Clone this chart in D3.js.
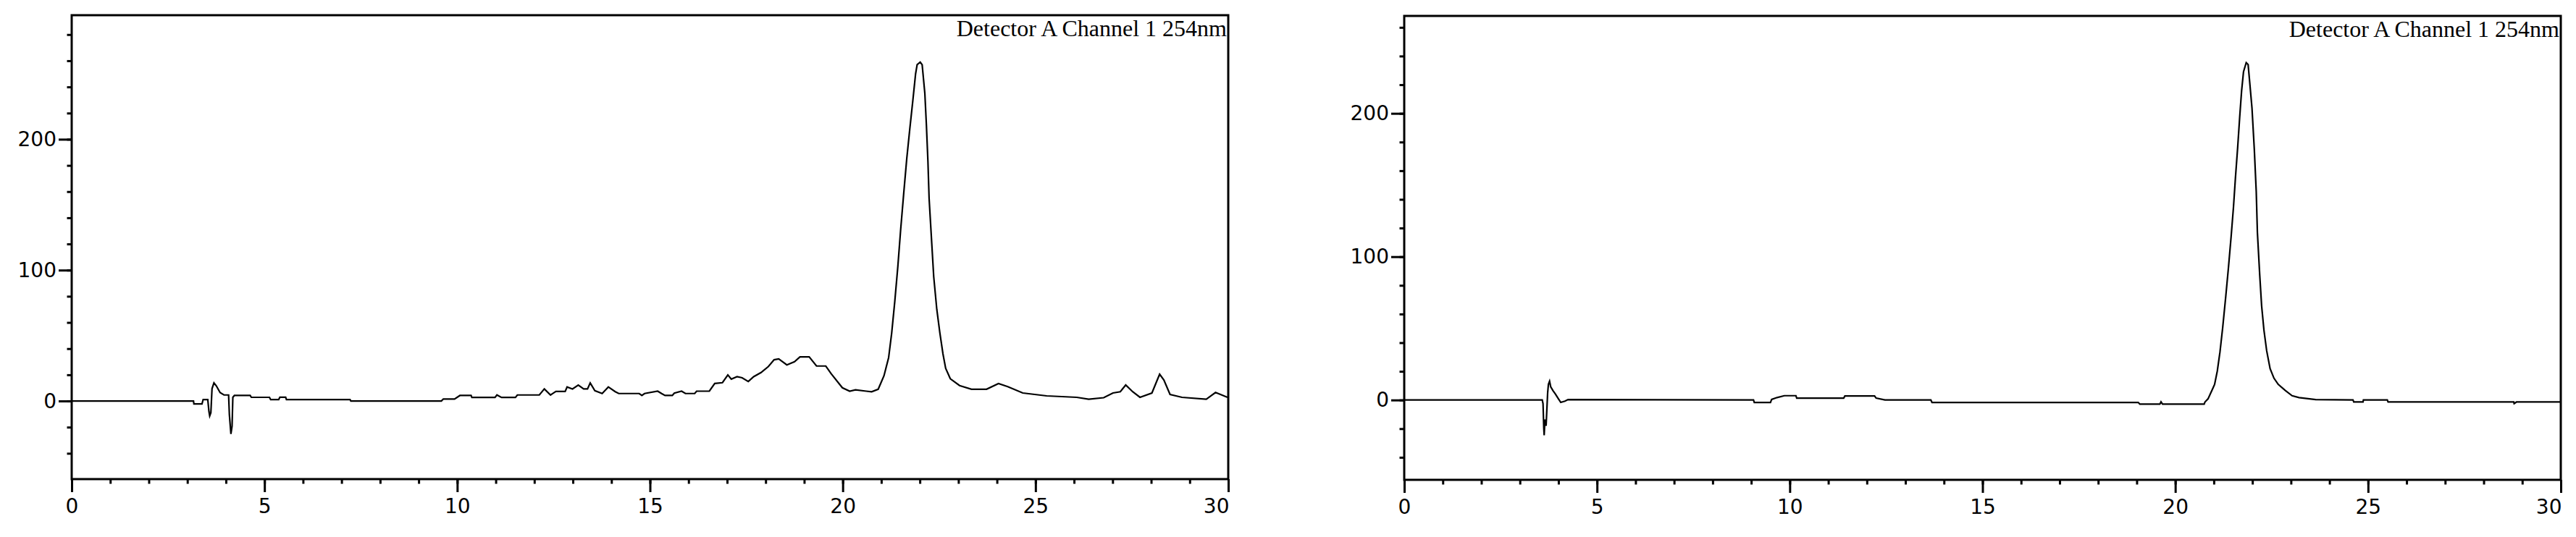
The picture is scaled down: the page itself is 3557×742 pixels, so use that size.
<!DOCTYPE html>
<html>
<head>
<meta charset="utf-8">
<script src="https://cdn.jsdelivr.net/npm/d3@7"></script>
<style>
  html, body { margin: 0; padding: 0; background: #fff; }
  svg { display: block; }
</style>
</head>
<body>
<svg id="chart" width="3557" height="742"></svg>
<script>
// ---------------- DATA ----------------
const channelLabel = "Detector A Channel 1 254nm";
const xMajorTicks = [0, 5, 10, 15, 20, 25, 30];
const yMajorTicks = [0, 100, 200];

// Left chromatogram (time in min, signal in mAU)
const leftTime = [0, 3.16, 3.17, 3.38, 3.41, 3.53, 3.56, 3.58, 3.61, 3.64, 3.69, 3.75, 3.85, 3.95, 4.07, 4.09, 4.13, 4.16, 4.18, 4.22,
  4.63, 4.66, 5.13, 5.16, 5.37, 5.4, 5.55, 5.57, 7.22, 7.24, 9.59, 9.64, 9.93, 10.07, 10.36, 10.38, 10.98, 11.03, 11.15, 11.51,
  11.56, 12.13, 12.26, 12.42, 12.56, 12.8, 12.85, 12.99, 13.14, 13.28, 13.38, 13.45, 13.57, 13.76, 13.92, 14.1, 14.19, 14.72, 14.79, 14.86,
  15.2, 15.3, 15.39, 15.58, 15.63, 15.82, 15.92, 16.16, 16.21, 16.54, 16.68, 16.88, 17.02, 17.11, 17.26, 17.39, 17.55, 17.69, 17.88, 18.07,
  18.22, 18.34, 18.55, 18.75, 18.89, 19.13, 19.32, 19.56, 19.7, 19.99, 20.18, 20.33, 20.61, 20.75, 20.92, 21.07, 21.19, 21.27, 21.35, 21.43,
  21.5, 21.58, 21.66, 21.74, 21.82, 21.89, 21.93, 22.01, 22.06, 22.13, 22.17, 22.21, 22.24, 22.31, 22.36, 22.44, 22.52, 22.6, 22.67, 22.79,
  23.03, 23.34, 23.73, 24.04, 24.28, 24.67, 25.29, 26.07, 26.38, 26.77, 27.01, 27.2, 27.34, 27.52, 27.71, 28.02, 28.22, 28.33, 28.49, 28.8,
  29.43, 29.67, 29.98];
const leftSignal = [0, 0, -2.2, -2.2, 1.1, 1.1, -8, -11.4, -9, 9.4, 13.8, 11.6, 6.4, 4.6, 4.6, -10.5, -25.2, -19.3, 2.8, 4.2,
  4.2, 2.8, 2.8, 1.1, 1.1, 2.9, 2.9, 1.1, 1.1, 0, 0, 1.5, 1.5, 4.2, 4.2, 2.7, 2.7, 4.6, 2.7, 2.7,
  4.6, 4.6, 9.2, 4.6, 7.3, 7.3, 10.7, 9.2, 12.1, 9.2, 9.2, 13.8, 7.9, 5.7, 10.7, 7.1, 5.7, 5.7, 4.2, 5.7,
  7.5, 5.7, 4.2, 4.2, 6, 7.5, 5.7, 5.7, 7.5, 7.5, 13.4, 14, 19.9, 16.7, 18.6, 17.7, 14.9, 18.6, 21.7, 26.3,
  31.5, 32.2, 27.6, 30, 33.7, 33.7, 26.7, 26.7, 20.8, 10.1, 7.5, 8.5, 7.5, 7, 9, 19.3, 33, 52, 76, 103,
  130, 158, 185, 208, 230, 250, 257, 259, 257, 235, 211, 183, 155, 120, 95, 70, 52, 36, 25, 17,
  11.8, 9, 9, 13.3, 11, 6.1, 3.9, 2.8, 1.4, 2.5, 6.1, 7.1, 12.2, 7.1, 2.8, 6.1, 20.5, 16, 5, 2.8,
  1.4, 6.5, 2.8];

// Right chromatogram
const rightTime = [0, 3.58, 3.6, 3.62, 3.63, 3.65, 3.68, 3.72, 3.74, 3.77, 3.8, 3.86, 3.92, 4.0, 4.06, 4.17, 4.25, 9.06, 9.08, 9.5,
  9.53, 9.67, 9.86, 10.16, 10.18, 11.4, 11.43, 12.2, 12.24, 12.47, 13.66, 13.69, 19.04, 19.08, 19.6, 19.63, 19.67, 20.75, 20.77, 20.85,
  20.95, 21.02, 21.09, 21.16, 21.23, 21.31, 21.38, 21.45, 21.51, 21.56, 21.62, 21.67, 21.72, 21.77, 21.84, 21.89, 21.93, 21.99, 22.05, 22.1,
  22.13, 22.19, 22.24, 22.3, 22.37, 22.46, 22.56, 22.67, 22.85, 23.03, 23.21, 23.64, 24.61, 24.63, 24.87, 24.88, 25.5, 25.52, 28.78, 28.79,
  28.85, 30];
const rightSignal = [0, 0, -2.5, -20, -24.6, -13.5, -18, 5, 10.9, 13.1, 9.2, 6.5, 4.2, 0.8, -1.7, -0.8, 0.3, 0, -1.7, -1.7,
  0.4, 1.7, 3, 3, 1.3, 1.3, 2.8, 2.8, 1.3, 0, 0, -1.7, -1.7, -2.9, -2.9, -1.3, -2.9, -2.9, -1.4, 0.8,
  6.7, 10.9, 20.2, 33.6, 50.5, 72.4, 92.6, 114.4, 134.7, 154.8, 176.8, 197, 215.5, 229, 235.4, 234, 222, 203.7, 175, 145.6,
  117, 87.5, 65.7, 48.8, 34.5, 21.9, 15.2, 10.9, 6.7, 3, 1.7, 0.3, 0, -1.4, -1.4, 0, 0, -1.4, -1.4, -2.5,
  -1.4, -1.4];

// ---------------- LAYOUT ----------------
const panels = [
  { time: leftTime, signal: leftSignal, x0: 99, x1: 1696, y0: 21, y1: 662, yDomain: [-59.7, 294.8], yMinorMax: 280 },
  { time: rightTime, signal: rightSignal, x0: 1939, x1: 3536, y0: 22, y1: 663, yDomain: [-55.7, 268.0], yMinorMax: 260 }
];

const svg = d3.select("#chart");
svg.append("rect").attr("width", 3557).attr("height", 742).attr("fill", "#fff");

const tickFont = "'DejaVu Sans', Verdana, sans-serif";

panels.forEach(p => {
  const x = d3.scaleLinear().domain([0, 30]).range([p.x0, p.x1]);
  const y = d3.scaleLinear().domain(p.yDomain).range([p.y1, p.y0]);
  const g = svg.append("g");

  const xMinor = d3.range(0, 31, 1);
  const yMinor = d3.range(-40, p.yMinorMax + 1, 20);

  const styleAxis = sel => {
    sel.select(".domain").remove();
    sel.selectAll(".tick line").attr("stroke", "#000").attr("stroke-width", 3);
    sel.selectAll(".tick text").attr("fill", "#000")
      .style("font-family", tickFont).style("font-size", "28px");
  };

  g.append("g").attr("transform", `translate(0,${p.y1})`)
    .call(d3.axisBottom(x).tickValues(xMinor).tickSize(6.5).tickFormat(""))
    .call(styleAxis);
  g.append("g").attr("transform", `translate(${p.x0},0)`)
    .call(d3.axisLeft(y).tickValues(yMinor).tickSize(6.5).tickFormat(""))
    .call(styleAxis);

  const xa = g.append("g").attr("transform", `translate(0,${p.y1})`)
    .call(d3.axisBottom(x).tickValues(xMajorTicks).tickSize(18).tickPadding(9).tickFormat(d3.format("d")))
    .call(styleAxis);
  xa.selectAll(".tick text").filter(d => d === 30).attr("text-anchor", "end").attr("x", 1);

  g.append("g").attr("transform", `translate(${p.x0},0)`)
    .call(d3.axisLeft(y).tickValues(yMajorTicks).tickSize(18).tickPadding(3).tickFormat(d3.format("d")))
    .call(styleAxis);

  const pts = p.time.map((t, i) => [t, p.signal[i]]);
  g.append("path")
    .datum(pts)
    .attr("fill", "none")
    .attr("stroke", "#000")
    .attr("stroke-width", 2.2)
    .attr("stroke-linejoin", "miter")
    .attr("d", d3.line().x(d => x(d[0])).y(d => y(d[1])));

  g.append("rect")
    .attr("x", p.x0).attr("y", p.y0)
    .attr("width", p.x1 - p.x0).attr("height", p.y1 - p.y0)
    .attr("fill", "none").attr("stroke", "#000").attr("stroke-width", 3);

  g.append("text")
    .attr("x", p.x1 - 2).attr("y", p.y0 + 29)
    .attr("text-anchor", "end")
    .style("font-family", "'Liberation Serif', 'Times New Roman', serif")
    .style("font-size", "32px")
    .attr("fill", "#000")
    .text(channelLabel);
});
</script>
</body>
</html>
